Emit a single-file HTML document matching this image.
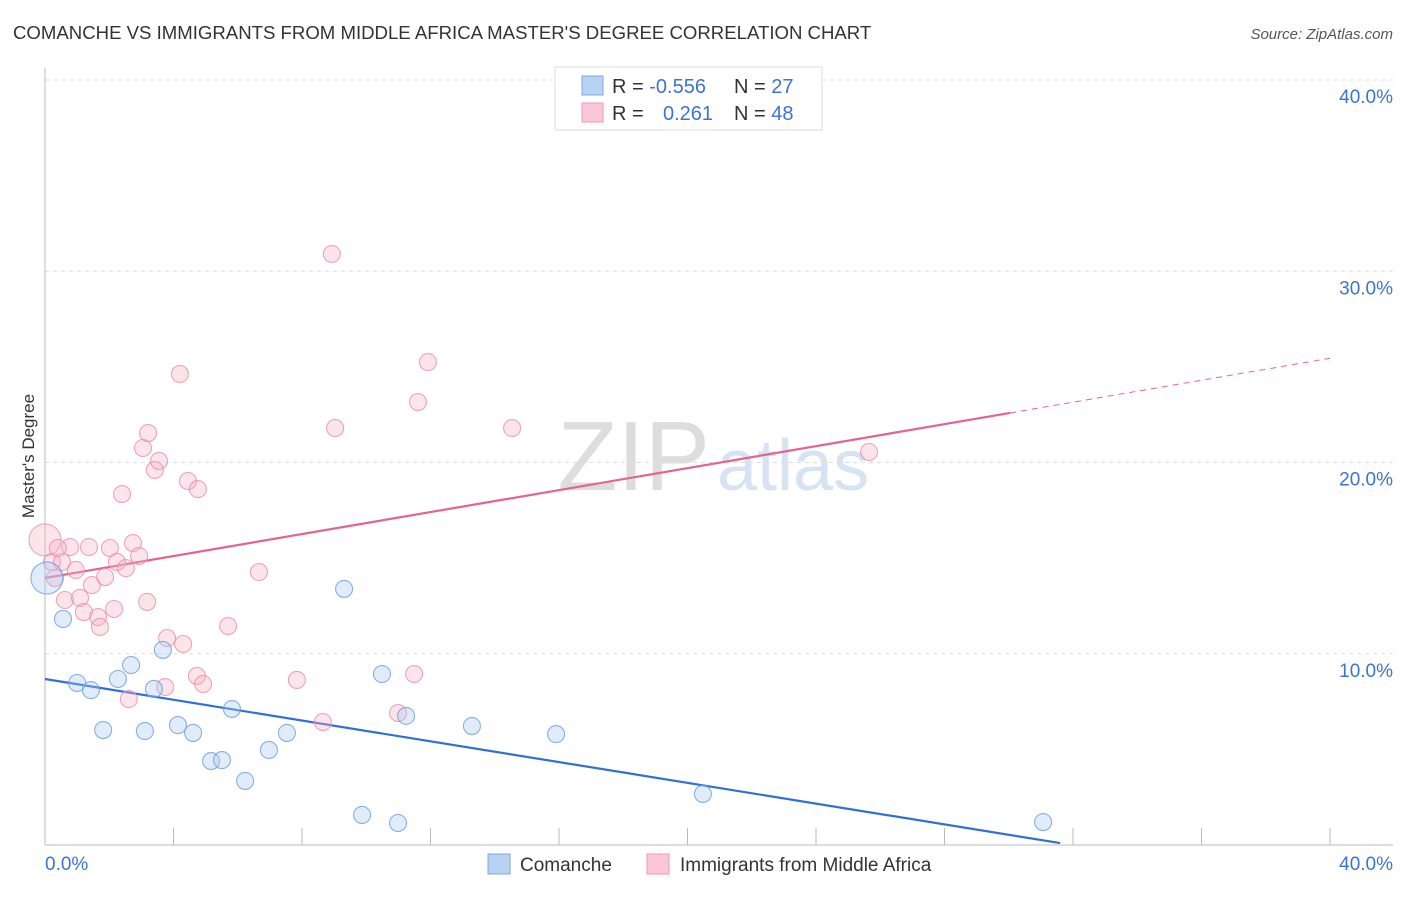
<!DOCTYPE html>
<html><head><meta charset="utf-8"><style>
body{margin:0;background:#fff;font-family:"Liberation Sans",sans-serif}
svg text{font-family:"Liberation Sans",sans-serif}
</style></head><body>
<svg id="chart" width="1406" height="892">
<text x="13" y="39" font-size="18.6" fill="#333">COMANCHE VS IMMIGRANTS FROM MIDDLE AFRICA MASTER'S DEGREE CORRELATION CHART</text>
<text x="1393" y="39" font-size="15" fill="#555" text-anchor="end" font-style="italic">Source: ZipAtlas.com</text>
<text x="710" y="490" font-size="98" fill="#ddd" text-anchor="end" font-family="Liberation Serif">ZIP</text>
<text x="717" y="490" font-size="72" fill="#d6e3f3">atlas</text>
<text transform="translate(34,456) rotate(-90)" font-size="17" fill="#333" text-anchor="middle">Master's Degree</text>
<g id="grid"></g><g id="axes"></g><g id="lines"></g><g id="pts"></g>
<g>
<rect x="555" y="67" width="267" height="63" fill="#fff" stroke="#ddd"/>
<rect x="582" y="76" width="21" height="19" fill="#b8d2f4" stroke="#7ba7e0"/>
<rect x="582" y="103" width="21" height="19" fill="#fbc6d5" stroke="#ec9ab4"/>
<text x="612" y="93" font-size="20" fill="#333">R = <tspan fill="#3b74d1">-0.556</tspan></text>
<text x="734" y="93" font-size="20" fill="#333">N = <tspan fill="#3b74d1">27</tspan></text>
<text x="612" y="120" font-size="20" fill="#333">R = <tspan fill="#3b74d1" x="663">0.261</tspan></text>
<text x="734" y="120" font-size="20" fill="#333">N = <tspan fill="#3b74d1">48</tspan></text>
</g>
<g>
<rect x="488" y="854" width="22" height="20" fill="#b8d2f4" stroke="#7ba7e0"/>
<text x="520" y="871" font-size="19" fill="#333">Comanche</text>
<rect x="647" y="854" width="22" height="20" fill="#fbc6d5" stroke="#ec9ab4"/>
<text x="680" y="871" font-size="19" fill="#333">Immigrants from Middle Africa</text>
</g>
</svg>
<script>
const yTicks=[10,20,30,40];
const yTickLabels=["10.0%","20.0%","30.0%","40.0%"];
const xEndLabels=["0.0%","40.0%"];
const blueX=[0.06,0.56,1.0,1.43,1.81,2.27,2.68,3.11,3.39,3.67,4.14,4.61,5.17,5.51,5.82,6.23,6.97,7.53,9.31,9.87,10.49,10.99,11.24,13.29,15.91,20.48,31.07];
const blueY=[13.96,11.82,8.47,8.10,6.01,8.68,9.41,5.96,8.16,10.2,6.27,5.86,4.39,4.44,7.11,3.35,4.97,5.86,13.39,1.57,8.94,1.15,6.75,6.22,5.80,2.67,1.2];
const pinkX=[0,0.22,0.31,0.53,0.62,0.78,0.96,1.09,1.21,1.37,1.46,1.65,1.71,1.87,2.02,2.15,2.24,2.4,2.52,2.61,2.74,2.93,3.05,3.18,3.21,3.42,3.55,3.74,3.8,4.2,4.3,4.45,4.73,4.76,4.92,5.7,6.66,7.84,8.65,8.93,9.03,10.99,11.49,11.61,11.92,14.54,25.65,0.4];
const pinkY=[15.95,14.8,13.96,14.8,12.81,15.58,14.38,12.92,12.18,15.58,13.59,11.92,11.4,14.01,15.53,12.34,14.8,18.35,14.48,7.63,15.79,15.11,20.76,12.71,21.54,19.61,20.08,8.26,10.82,24.63,10.51,19.03,8.84,18.61,8.42,11.45,14.27,8.63,6.43,30.9,21.8,6.9,8.94,23.16,25.25,21.8,20.55,15.53];
const blueLine=[0,8.68,31.6,0.1];
const pinkLine=[0,13.96,30.04,22.59,40,25.45];
const X=v=>45+v*32.125, Y=v=>845-v*19.125;
const NS="http://www.w3.org/2000/svg";
function mk(p,t,a){const e=document.createElementNS(NS,t);for(const k in a)e.setAttribute(k,a[k]);p.appendChild(e);return e;}
const grid=document.getElementById('grid'),axes=document.getElementById('axes'),lines=document.getElementById('lines'),pts=document.getElementById('pts');
yTicks.forEach((t,i)=>{
 const l=mk(grid,'line',{x1:45,x2:1393,y1:Y(t),y2:Y(t),stroke:'#ddd','stroke-dasharray':'4,4'});
 
 
 const tx=mk(grid,'text',{x:1393,y:Y(t)+23,'font-size':19,fill:'#3b74d1','text-anchor':'end'});tx.textContent=yTickLabels[i];
 
 
});
const ya=mk(axes,'line',{x1:45,x2:45,y1:68,y2:845,stroke:'#bbb'});


const xa=mk(axes,'line',{x1:45,x2:1393,y1:845,y2:845,stroke:'#bbb'});


for(let v=4;v<=40;v+=4){const t=mk(axes,'line',{x1:X(v),x2:X(v),y1:828,y2:845,stroke:'#bbb'});
 
 }
[[0,'start',45],[40,'end',1393]].forEach((d,i)=>{const t=mk(axes,'text',{x:d[2],y:870,'font-size':19,fill:'#3b74d1','text-anchor':d[1]});t.textContent=xEndLabels[i];
 
 });
function dots(xs,ys,fill,stroke,name,bigIdx){xs.forEach((x,i)=>{const c=mk(pts,'circle',{cx:X(x),cy:Y(ys[i]),r:i===bigIdx?16:8.5,fill:fill,'fill-opacity':0.35,stroke:stroke,'stroke-opacity':0.8,'stroke-width':1.1});
 
 });}
dots(pinkX,pinkY,'#f7b3c7','#e98fac','pink-point',0);
dots(blueX,blueY,'#a9c8f0','#6b9edf','blue-point',0);
const bl=mk(lines,'line',{x1:X(blueLine[0]),y1:Y(blueLine[1]),x2:X(blueLine[2]),y2:Y(blueLine[3]),stroke:'#2f6fd6','stroke-width':2.2});


const pl=mk(lines,'line',{x1:X(pinkLine[0]),y1:Y(pinkLine[1]),x2:X(pinkLine[2]),y2:Y(pinkLine[3]),stroke:'#e4648e','stroke-width':2.2});


const pd=mk(lines,'line',{x1:X(pinkLine[2]),y1:Y(pinkLine[3]),x2:X(pinkLine[4]),y2:Y(pinkLine[5]),stroke:'#e4648e','stroke-width':1,'stroke-dasharray':'6,5'});


</script>
</body></html>
